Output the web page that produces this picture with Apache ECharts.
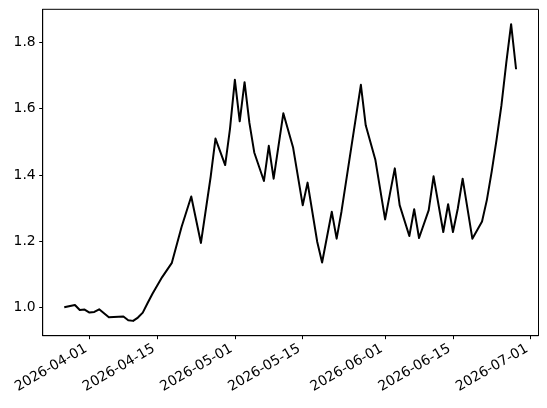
<!DOCTYPE html>
<html>
<head>
<meta charset="utf-8">
<script src="https://cdn.jsdelivr.net/npm/echarts@6/dist/echarts.min.js"></script>
<style>
html,body{margin:0;padding:0;background:#fff;}
#c{width:547px;height:408px;}
</style>
</head>
<body>
<div id="c"></div>
<script>
const dates = ['2026-03-27','2026-03-29','2026-03-30','2026-03-31','2026-04-01','2026-04-02','2026-04-03','2026-04-05','2026-04-08','2026-04-09','2026-04-10','2026-04-11','2026-04-12','2026-04-13','2026-04-14','2026-04-16','2026-04-18','2026-04-20','2026-04-22','2026-04-24','2026-04-26','2026-04-27','2026-04-29','2026-04-30','2026-05-01','2026-05-02','2026-05-03','2026-05-04','2026-05-05','2026-05-07','2026-05-08','2026-05-09','2026-05-11','2026-05-13','2026-05-15','2026-05-16','2026-05-18','2026-05-19','2026-05-21','2026-05-22','2026-05-23','2026-05-27','2026-05-28','2026-05-30','2026-06-01','2026-06-02','2026-06-03','2026-06-04','2026-06-06','2026-06-07','2026-06-08','2026-06-10','2026-06-11','2026-06-13','2026-06-14','2026-06-15','2026-06-16','2026-06-17','2026-06-19','2026-06-21','2026-06-22','2026-06-23','2026-06-24','2026-06-25','2026-06-26','2026-06-27','2026-06-28'];
const values = [1.002,1.008,0.993,0.994,0.985,0.987,0.995,0.971,0.973,0.962,0.960,0.970,0.985,1.014,1.042,1.092,1.135,1.243,1.335,1.195,1.394,1.510,1.430,1.540,1.687,1.562,1.680,1.557,1.468,1.382,1.488,1.389,1.586,1.484,1.309,1.377,1.198,1.136,1.289,1.208,1.290,1.672,1.550,1.445,1.266,1.344,1.420,1.309,1.216,1.297,1.210,1.294,1.396,1.228,1.312,1.228,1.299,1.389,1.208,1.260,1.325,1.411,1.507,1.610,1.738,1.855,1.722];
const xTickLabels = ['2026-04-01','2026-04-15','2026-05-01','2026-05-15','2026-06-01','2026-06-15','2026-07-01'];
const yTickValues = [1.0,1.2,1.4,1.6,1.8];

function ts(s){ const p=s.split('-').map(Number); return new Date(p[0],p[1]-1,p[2]).getTime(); }
function fmt(v){ const d=new Date(v); const m=d.getMonth()+1, dd=d.getDate(); return d.getFullYear()+'-'+(m<10?'0':'')+m+'-'+(dd<10?'0':'')+dd; }

const seriesData = dates.map((d,i)=>[ts(d), values[i]]);
const xTicks = xTickLabels.map(ts);
const font = 'DejaVu Sans';

const chart = echarts.init(document.getElementById('c'), null, {renderer:'canvas'});
chart.setOption({
  animation:false,
  backgroundColor:'#fff',
  grid:{left:42.7, right:8.5, top:9.3, bottom:72.3, show:true, borderColor:'#000', borderWidth:1, backgroundColor:'transparent'},
  xAxis:{
    type:'value',
    scale:true,
    min:new Date(2026,2,22,8,24).getTime(),
    max:new Date(2026,6,2,15,36).getTime(),
    splitLine:{show:false},
    axisLine:{show:true, onZero:false, lineStyle:{color:'#000', width:1}},
    axisTick:{show:true, length:3.5, lineStyle:{color:'#000', width:1}, customValues:xTicks},
    axisLabel:{show:true, rotate:30, margin:10, padding:[0,4,0,0], color:'#000', fontFamily:font, fontSize:13.9, customValues:xTicks, formatter:(v)=>fmt(v)}
  },
  yAxis:{
    type:'value',
    min:0.9153,
    max:1.8998,
    splitLine:{show:false},
    axisLine:{show:true, onZero:false, lineStyle:{color:'#000', width:1}},
    axisTick:{show:true, length:3.5, lineStyle:{color:'#000', width:1}, customValues:yTickValues},
    axisLabel:{show:true, margin:7, color:'#000', fontFamily:font, fontSize:13.9, customValues:yTickValues, formatter:(v)=>Number(v).toFixed(1)}
  },
  series:[{
    type:'line',
    data:seriesData,
    showSymbol:false,
    symbol:'none',
    lineStyle:{color:'#000', width:2, join:'round', cap:'square'}
  }]
});
</script>
</body>
</html>
